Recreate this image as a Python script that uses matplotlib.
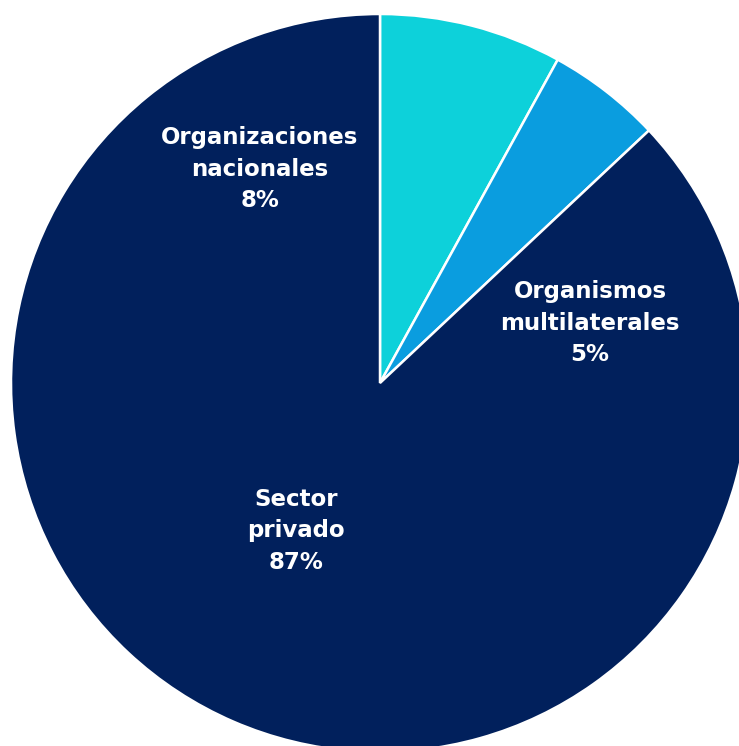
import matplotlib
matplotlib.use("Agg")
import matplotlib.pyplot as plt

# Shares by source
labels = ["Organizaciones\nnacionales", "Organismos\nmultilaterales", "Sector\nprivado"]
shares = [8, 5, 87]
colors = ["#0dd1da", "#0a9ddf", "#01205c"]

# label anchor points, in pixels from the pie centre
label_pos = [(-120, 214), (210, 60), (-84, -148)]

W, H = 739, 746
CX, CY, R = 380, 383, 369

fig = plt.figure(figsize=(W / 100, H / 100), dpi=100)
ax = fig.add_axes([0, 0, 1, 1])

ax.pie(shares, colors=colors, startangle=90, counterclock=False,
       radius=R, center=(0, 0), frame=True,
       wedgeprops=dict(edgecolor="white", linewidth=1.8))
ax.set_xlim(-CX, W - CX)
ax.set_ylim(-(H - CY), CY)
ax.set_aspect("equal")
ax.axis("off")

for lab, val, (x, y) in zip(labels, shares, label_pos):
    ax.text(x, y, f"{lab}\n{val}%", ha="center", va="center", color="white",
            fontsize=16.5, fontweight="bold", family="DejaVu Sans", linespacing=1.45)

fig.savefig("out.png", dpi=100, facecolor="white")
